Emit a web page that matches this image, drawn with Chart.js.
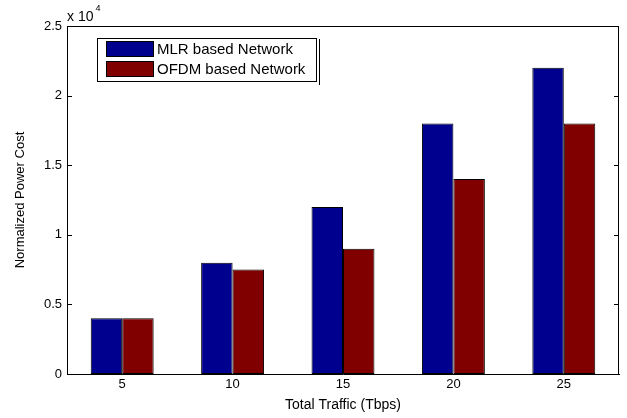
<!DOCTYPE html>
<html><head><meta charset="utf-8">
<script src="https://cdn.jsdelivr.net/npm/chart.js@4/dist/chart.umd.min.js"></script>
<style>html,body{margin:0;padding:0;background:#fff;overflow:hidden}#wrap{width:627px;height:418px;position:relative}canvas{display:block}</style>
</head><body><div id="wrap"><canvas id="c" width="627" height="418"></canvas></div>
<script>
const categories = ['5', '10', '15', '20', '25'];
const mlrValues = [4000, 8000, 12000, 18000, 22000];
const ofdmValues = [4000, 7500, 9000, 14000, 18000];
const seriesNames = ['MLR based Network', 'OFDM based Network'];
const seriesColors = ['#00008F', '#800000'];
const yTicks = [0, 5000, 10000, 15000, 20000, 25000];
const yTickLabels = ['0', '0.5', '1', '1.5', '2', '2.5'];
const xTitle = 'Total Traffic (Tbps)';
const yTitle = 'Normalized Power Cost';
const exponentBase = 'x 10';
const exponentPow = '4';
const FONT = '"Liberation Sans", Arial, sans-serif';

const decorPlugin = {
  id: 'decor',
  afterDraw(chart) {
    const ctx = chart.ctx;
    const a = chart.chartArea;
    const ys = chart.scales.y;
    ctx.save();
    ctx.strokeStyle = '#000';
    ctx.lineWidth = 1;
    ctx.beginPath();
    ctx.moveTo(Math.round(a.left) + 0.5, Math.round(a.top) + 0.5);
    ctx.lineTo(Math.round(a.right) - 0.5, Math.round(a.top) + 0.5);
    ctx.lineTo(Math.round(a.right) - 0.5, Math.round(a.bottom));
    ctx.stroke();
    ctx.beginPath();
    yTicks.forEach(v => {
      const y = Math.round(ys.getPixelForValue(v)) + 0.5;
      ctx.moveTo(a.left, y); ctx.lineTo(a.left + 5, y);
      ctx.moveTo(a.right, y); ctx.lineTo(a.right - 5, y);
    });
    ctx.stroke();
    ctx.fillStyle = '#000';
    ctx.textBaseline = 'alphabetic';
    ctx.textAlign = 'left';
    ctx.font = '14px ' + FONT;
    ctx.fillText(exponentBase, a.left, 21);
    const w = ctx.measureText(exponentBase).width;
    ctx.font = '9px ' + FONT;
    ctx.fillText(exponentPow, a.left + w + 2, 11);
    const lx = 97, ly = 38, lw = 220, lh = 44;
    ctx.fillStyle = '#fff';
    ctx.fillRect(lx, ly, lw, lh);
    ctx.strokeStyle = '#000';
    ctx.strokeRect(lx + 0.5, ly + 0.5, lw - 1, lh - 1);
    ctx.beginPath();
    ctx.moveTo(lx + lw + 2.5, ly + 1);
    ctx.lineTo(lx + lw + 2.5, ly + lh + 3);
    ctx.stroke();
    ctx.font = '15px ' + FONT;
    ctx.textBaseline = 'middle';
    chart.data.datasets.forEach((ds, i) => {
      const sy = ly + 3 + i * 20;
      ctx.fillStyle = ds.backgroundColor;
      ctx.fillRect(lx + 9, sy, 48, 16);
      ctx.strokeStyle = '#000';
      ctx.strokeRect(lx + 9.5, sy + 0.5, 47, 15);
      ctx.fillStyle = '#000';
      ctx.fillText(ds.label, lx + 60, sy + 8.5);
    });
    ctx.restore();
  }
};

new Chart(document.getElementById('c'), {
  type: 'bar',
  data: {
    labels: categories,
    datasets: [
      { label: seriesNames[0], data: mlrValues, backgroundColor: seriesColors[0], borderColor: '#000', borderWidth: 1, borderSkipped: false },
      { label: seriesNames[1], data: ofdmValues, backgroundColor: seriesColors[1], borderColor: '#000', borderWidth: 1, borderSkipped: false }
    ]
  },
  options: {
    responsive: false,
    animation: false,
    devicePixelRatio: 1,
    layout: { padding: { top: 26, right: 8, left: 0, bottom: 0 } },
    datasets: { bar: { categoryPercentage: 0.57, barPercentage: 1.0 } },
    plugins: { legend: { display: false }, tooltip: { enabled: false } },
    scales: {
      x: {
        grid: { display: false, drawTicks: false },
        border: { display: true, color: '#000', width: 1 },
        ticks: { color: '#000', font: { family: FONT, size: 13 }, padding: 3, maxRotation: 0 },
        title: { display: true, text: xTitle, color: '#000', font: { family: FONT, size: 14 }, padding: { top: 0, bottom: 4 } },
        afterFit: s => { s.height = 44; }
      },
      y: {
        min: 0, max: 25000,
        grid: { display: false, drawTicks: false },
        border: { display: true, color: '#000', width: 1 },
        afterBuildTicks: s => { s.ticks = yTicks.map(v => ({ value: v })); },
        ticks: { color: '#000', font: { family: FONT, size: 13 }, padding: 5,
          callback: v => yTickLabels[yTicks.indexOf(v)] },
        title: { display: true, text: yTitle, color: '#000', font: { family: FONT, size: 13 }, padding: { top: 13, bottom: 0 } },
        afterFit: s => { s.width = 67; }
      }
    }
  },
  plugins: [decorPlugin]
});
</script></body></html>
